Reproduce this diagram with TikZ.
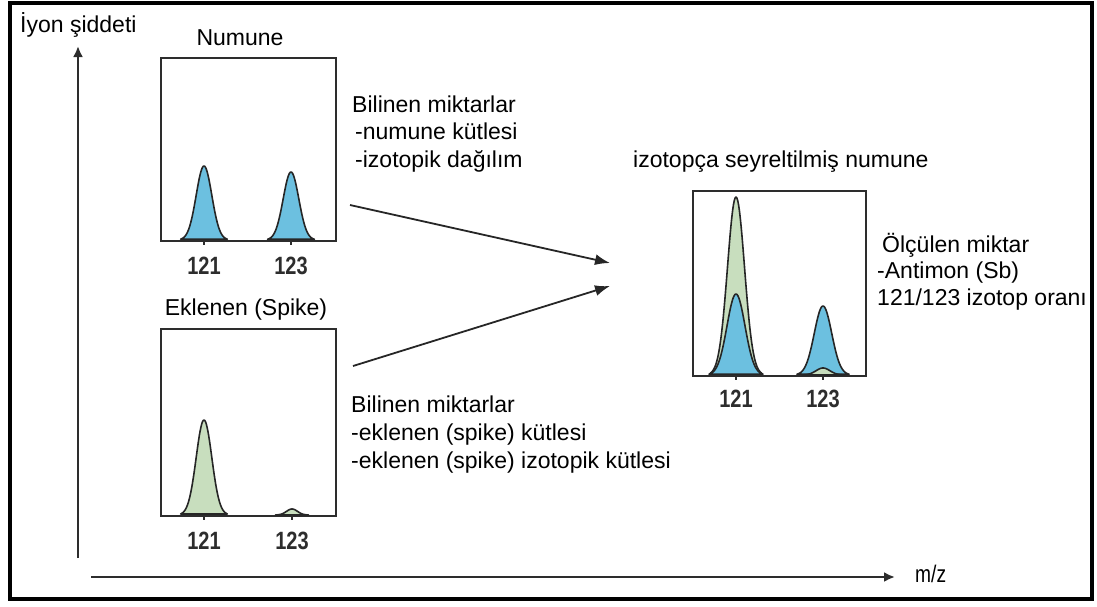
\documentclass[tikz,border=0pt]{standalone}
\usepackage{fontspec}
\setmainfont{Liberation Sans}
\newfontfamily\narrowsans[FakeStretch=0.8]{Liberation Sans}
\usetikzlibrary{arrows.meta}

\definecolor{peakblue}{RGB}{108,192,224}
\definecolor{peakgreen}{RGB}{200,222,190}
\definecolor{inkgray}{RGB}{45,45,45}

% Gaussian-shaped peak: fill colour, centre x, baseline y, height, sigma
\newcommand{\gpeak}[5]{%
  \filldraw[peakline, fill=#1]
    plot[domain=-3:3, samples=61, smooth] ({#2+#5*\x},{#3-#4*exp(-0.5*\x*\x)}) -- cycle;}
% tick mark under a peak
\newcommand{\gtick}[2]{\draw[ticklin] (#1,#2) -- ++(0,5);}

\begin{document}
\begin{tikzpicture}[x=1pt, y=-1pt,
  txt/.style={font=\fontsize{23}{27}\selectfont, inner sep=0pt, anchor=base west},
  ttl/.style={font=\fontsize{23}{27}\selectfont, inner sep=0pt, anchor=base},
  mass/.style={font=\fontsize{25}{29}\selectfont\narrowsans\bfseries, inner sep=0pt, anchor=base, text=inkgray},
  specbox/.style={draw=inkgray, line width=2pt, inner sep=0pt, anchor=north west},
  peakline/.style={draw=black!85, line width=1.6pt, line join=round},
  ticklin/.style={draw=inkgray, line width=1.8pt},
  axis/.style={draw=inkgray, line width=2.2pt, -{Latex[length=11pt,width=10pt]}},
  flow/.style={draw=black!85, line width=1.8pt, -{Latex[length=15pt,width=11pt]}}]

\useasboundingbox (0,0) rectangle (1097,606);
\draw[line width=3.5pt] (10,3) rectangle (1092,599);

% axes
\coordinate (yb) at (78,558);
\coordinate (yt) at (78,46);
\coordinate (xl) at (91,577);
\coordinate (xr) at (895,577);
\draw[axis] (yb) -- (yt);
\draw[axis] (xl) -- (xr);
\node[txt] (ylab) at (20,32) {İyon şiddeti};
\node[txt, font=\fontsize{24}{28}\selectfont\narrowsans] (xlab) at (915,582) {m/z};

% sample spectrum
\node[specbox, minimum width=175pt, minimum height=183pt] (sample) at (160,57) {};
\node[ttl] (sampleT) at (240,45) {Numune};
\gpeak{peakblue}{204}{240}{74}{7.8}
\gpeak{peakblue}{291}{240}{68}{7.8}
\gtick{204}{240}\gtick{291}{240}
\node[mass] (s121) at (204,274) {121};
\node[mass] (s123) at (291,274) {123};

% spike spectrum
\node[specbox, minimum width=175pt, minimum height=187pt] (spike) at (160,328) {};
\node[ttl] (spikeT) at (246,315) {Eklenen (Spike)};
\gpeak{peakgreen}{204}{515}{95}{7.8}
\gpeak{peakgreen}{292}{515}{6}{5.5}
\gtick{204}{515}\gtick{292}{515}
\node[mass] (k121) at (204,549) {121};
\node[mass] (k123) at (292,549) {123};

% blended spectrum
\node[specbox, minimum width=173pt, minimum height=185pt] (blend) at (692,190) {};
\node[txt] (blendT) at (633,167) {izotopça seyreltilmiş numune};
\gpeak{peakgreen}{736}{375}{178}{8.5}
\gpeak{peakblue}{736}{375}{81}{9}
\gpeak{peakblue}{823}{375}{69}{8.7}
\gpeak{peakgreen}{823}{375}{7}{7}
\gtick{736}{375}\gtick{823}{375}
\node[mass] (b121) at (736,407) {121};
\node[mass] (b123) at (823,407) {123};

% descriptions
\node[txt] (kn1) at (352,112) {Bilinen miktarlar};
\node[txt] (kn1a) at (355,139) {-numune kütlesi};
\node[txt] (kn1b) at (355,167) {-izotopik dağılım};
\node[txt] (kn2) at (351,412) {Bilinen miktarlar};
\node[txt] (kn2a) at (351,440) {-eklenen (spike) kütlesi};
\node[txt] (kn2b) at (351,468) {-eklenen (spike) izotopik kütlesi};
\node[txt] (me) at (882,252) {Ölçülen miktar};
\node[txt] (mea) at (877,278) {-Antimon (Sb)};
\node[txt] (meb) at (877,305) {121/123 izotop oranı};

% flow arrows
\coordinate (a1s) at (350,205);
\coordinate (a1e) at (610,263);
\coordinate (a2s) at (353,366);
\coordinate (a2e) at (610,286);
\draw[flow] (a1s) -- (a1e);
\draw[flow] (a2s) -- (a2e);
\end{tikzpicture}
\end{document}
